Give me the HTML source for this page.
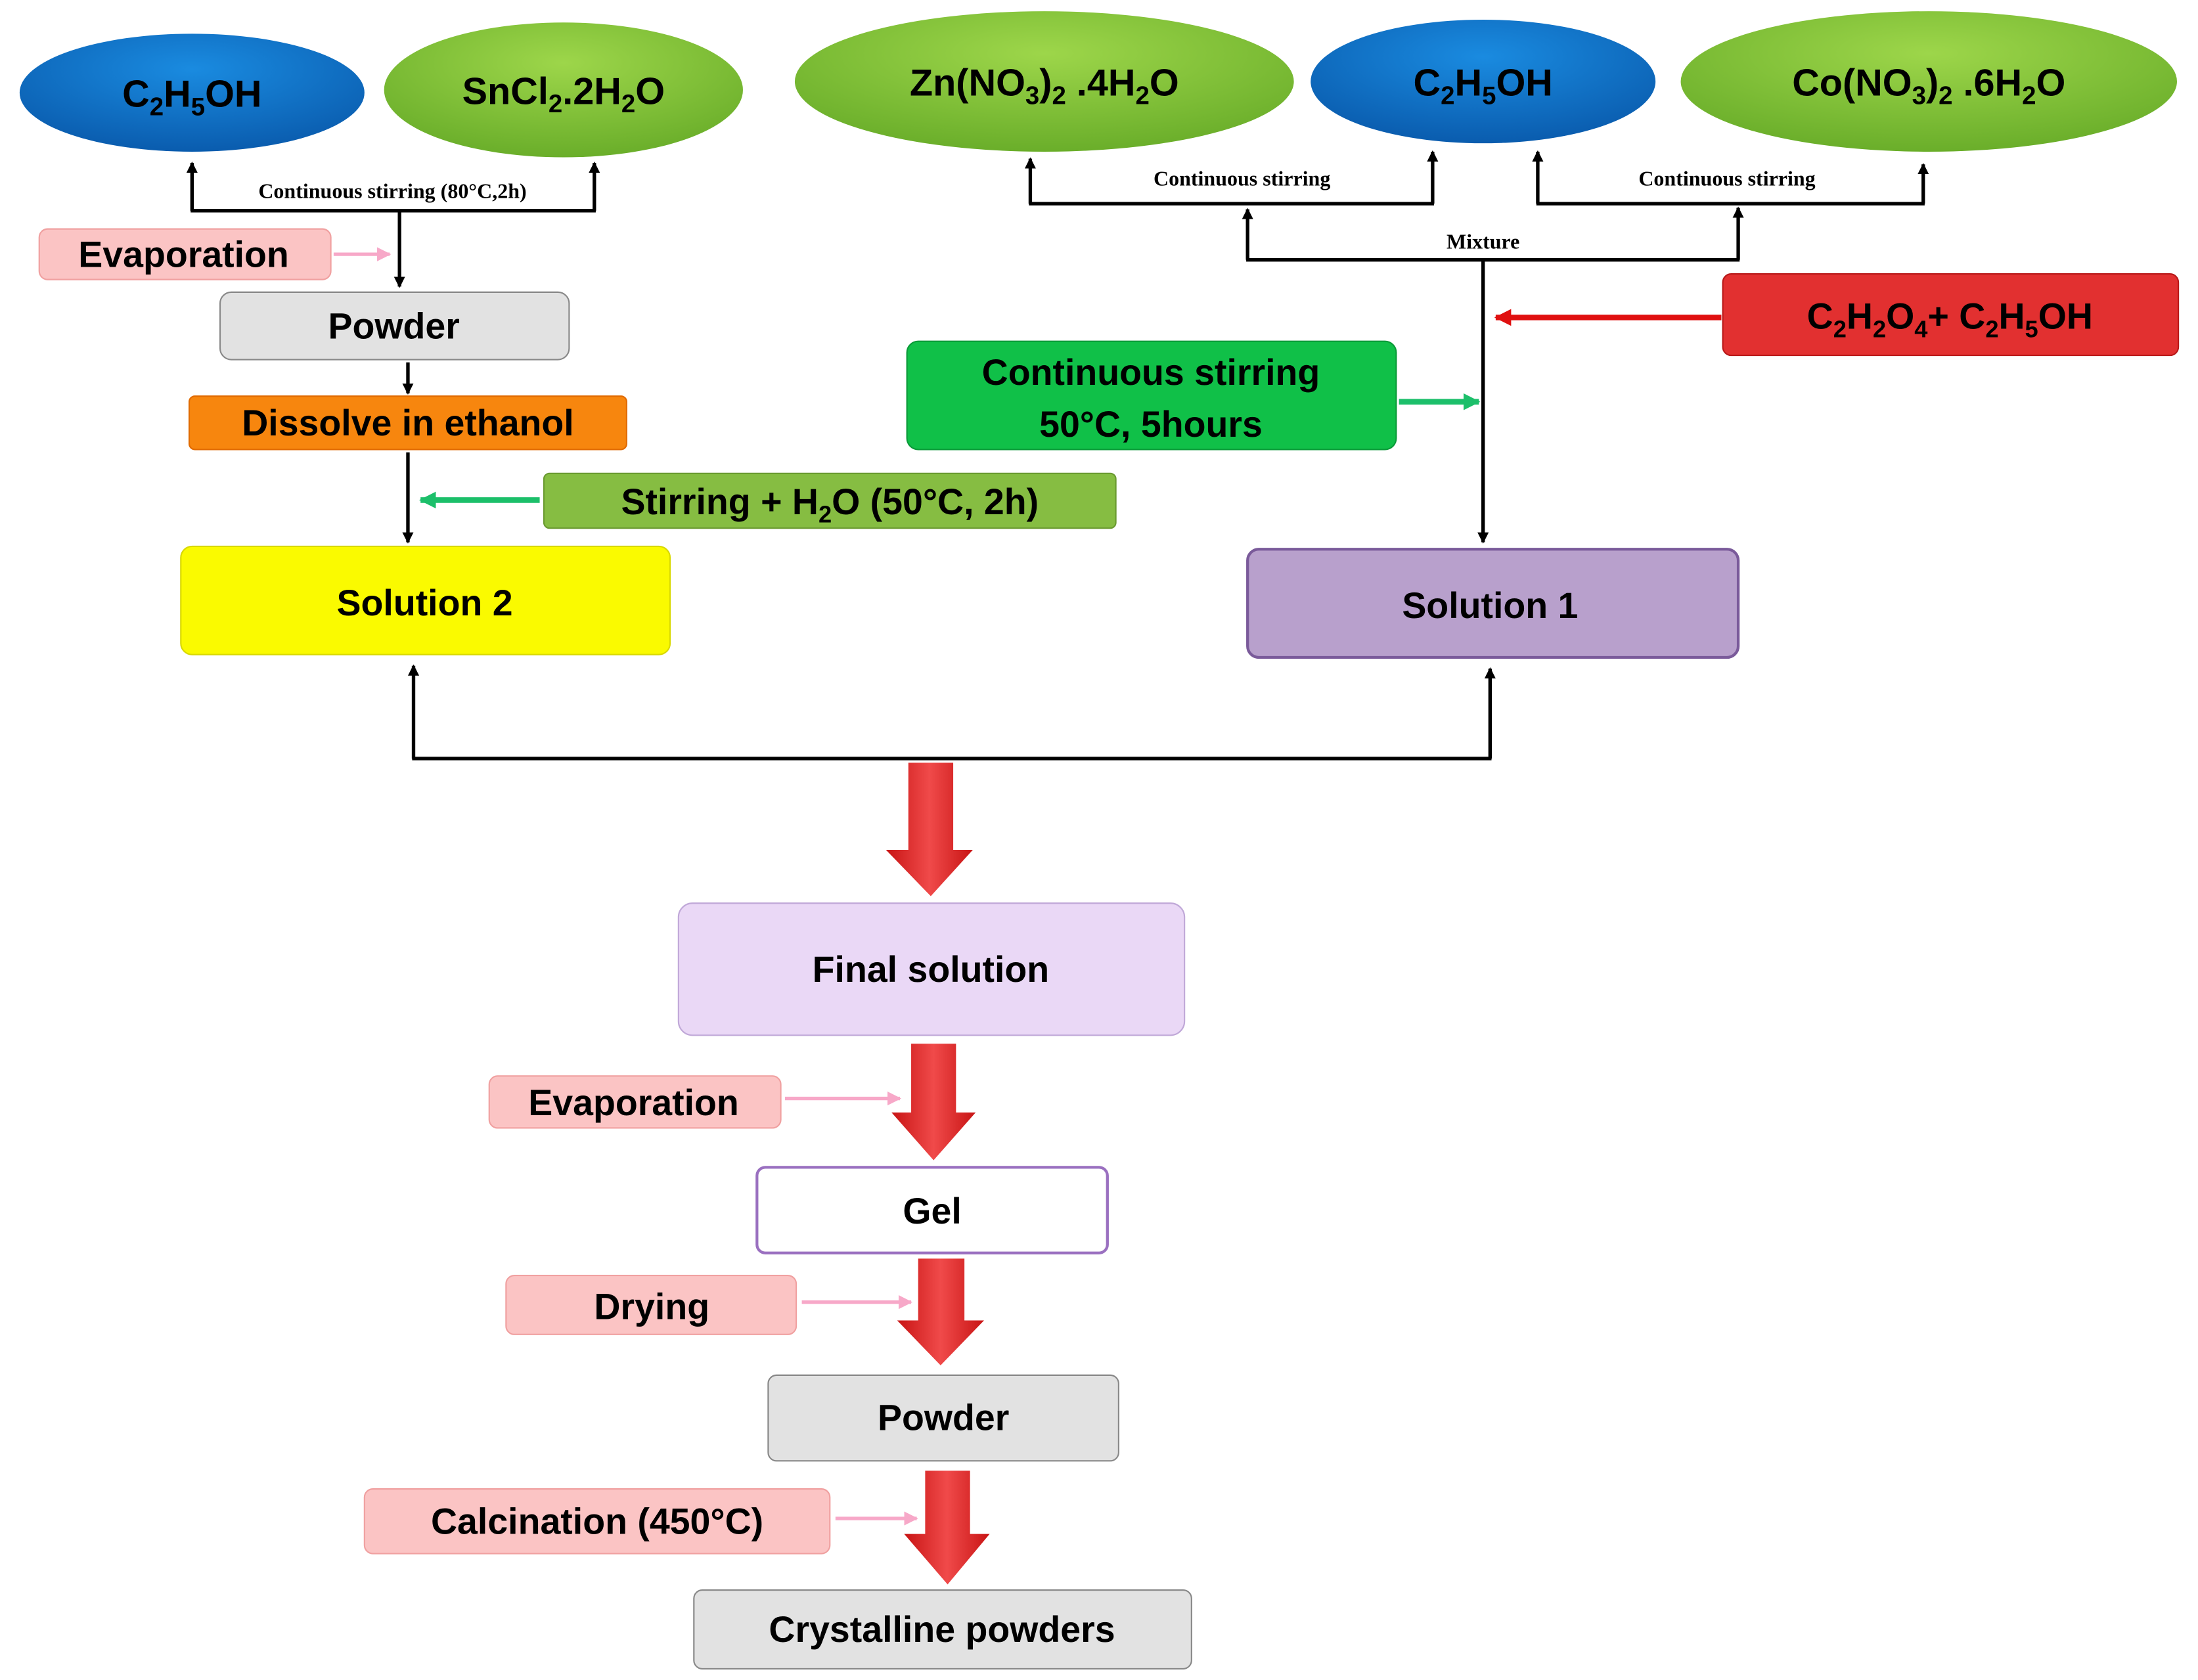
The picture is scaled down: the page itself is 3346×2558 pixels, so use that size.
<!DOCTYPE html>
<html><head><meta charset="utf-8"><style>html,body{margin:0;padding:0;background:#fff}svg{display:block}</style></head>
<body>
<svg xmlns="http://www.w3.org/2000/svg" width="3346" height="2558" viewBox="0 0 1568 1196" preserveAspectRatio="none" font-family="Liberation Sans, sans-serif" font-weight="bold">
<defs>
<radialGradient id="gb" cx="50%" cy="30%" r="70%"><stop offset="0" stop-color="#1a8be0"/><stop offset="1" stop-color="#0a5cae"/></radialGradient>
<radialGradient id="gg" cx="50%" cy="30%" r="70%"><stop offset="0" stop-color="#9dd64a"/><stop offset="1" stop-color="#6aae2a"/></radialGradient>
<marker id="ak" markerWidth="8" markerHeight="8" refX="7" refY="4" orient="auto" markerUnits="userSpaceOnUse"><path d="M0,0 L8,4 L0,8 Z" fill="#000"/></marker>
<marker id="ap" markerWidth="10" markerHeight="10" refX="9" refY="5" orient="auto" markerUnits="userSpaceOnUse"><path d="M0,0 L10,5 L0,10 Z" fill="#f7a8c8"/></marker>
<marker id="ag" markerWidth="12" markerHeight="12" refX="11" refY="6" orient="auto" markerUnits="userSpaceOnUse"><path d="M0,0 L12,6 L0,12 Z" fill="#1cbf6a"/></marker>
<marker id="ar" markerWidth="12" markerHeight="12" refX="11" refY="6" orient="auto" markerUnits="userSpaceOnUse"><path d="M0,0 L12,6 L0,12 Z" fill="#e01010"/></marker>
<linearGradient id="rg" x1="0" x2="1"><stop offset="0" stop-color="#c81414"/><stop offset="0.5" stop-color="#f04a4a"/><stop offset="1" stop-color="#c81414"/></linearGradient>
</defs>
<g font-size="27" text-anchor="middle">
<!-- ellipses -->
<ellipse cx="137" cy="66" rx="123" ry="42" fill="url(#gb)"/>
<text x="137" y="76">C<tspan font-size="18" dy="6">2</tspan><tspan dy="-6">H</tspan><tspan font-size="18" dy="6">5</tspan><tspan dy="-6">OH</tspan></text>
<ellipse cx="402" cy="64" rx="128" ry="48" fill="url(#gg)"/>
<text x="402" y="74">SnCl<tspan font-size="18" dy="6">2</tspan><tspan dy="-6">.2H</tspan><tspan font-size="18" dy="6">2</tspan><tspan dy="-6">O</tspan></text>
<ellipse cx="745" cy="58" rx="178" ry="50" fill="url(#gg)"/>
<text x="745" y="68">Zn(NO<tspan font-size="18" dy="6">3</tspan><tspan dy="-6">)</tspan><tspan font-size="18" dy="6">2</tspan><tspan dy="-6"> .4H</tspan><tspan font-size="18" dy="6">2</tspan><tspan dy="-6">O</tspan></text>
<ellipse cx="1058" cy="58" rx="123" ry="44" fill="url(#gb)"/>
<text x="1058" y="68">C<tspan font-size="18" dy="6">2</tspan><tspan dy="-6">H</tspan><tspan font-size="18" dy="6">5</tspan><tspan dy="-6">OH</tspan></text>
<ellipse cx="1376" cy="58" rx="177" ry="50" fill="url(#gg)"/>
<text x="1376" y="68">Co(NO<tspan font-size="18" dy="6">3</tspan><tspan dy="-6">)</tspan><tspan font-size="18" dy="6">2</tspan><tspan dy="-6"> .6H</tspan><tspan font-size="18" dy="6">2</tspan><tspan dy="-6">O</tspan></text>
</g>
<!-- brackets -->
<g stroke="#000" stroke-width="2.5" fill="none">
<path d="M137,150 V116" marker-end="url(#ak)"/><path d="M424,150 V116" marker-end="url(#ak)"/><path d="M136,150 H425"/>
<path d="M285,150 V204" marker-end="url(#ak)"/>
<path d="M735,145 V113" marker-end="url(#ak)"/><path d="M1022,145 V108" marker-end="url(#ak)"/><path d="M734,145 H1023"/>
<path d="M1097,145 V108" marker-end="url(#ak)"/><path d="M1372,145 V117" marker-end="url(#ak)"/><path d="M1096,145 H1373"/>
<path d="M890,185 V149" marker-end="url(#ak)"/><path d="M1240,185 V148" marker-end="url(#ak)"/><path d="M889,185 H1241"/>
<path d="M1058,185 V386" marker-end="url(#ak)"/>
<path d="M291,258 V280" marker-end="url(#ak)"/>
<path d="M291,322 V386" marker-end="url(#ak)"/>
<path d="M295,540 V474" marker-end="url(#ak)"/><path d="M1063,540 V476" marker-end="url(#ak)"/><path d="M294,540 H1064"/>
</g>
<g font-family="Liberation Serif, serif" font-size="15" text-anchor="middle">
<text x="280" y="141">Continuous stirring (80°C,2h)</text>
<text x="886" y="132">Continuous stirring</text>
<text x="1232" y="132">Continuous stirring</text>
<text x="1058" y="177">Mixture</text>
</g>
<!-- side arrows -->
<path d="M238,181 H278" stroke="#f7a8c8" stroke-width="2.5" marker-end="url(#ap)"/>
<path d="M385,356 H300" stroke="#1cbf6a" stroke-width="4" marker-end="url(#ag)"/>
<path d="M998,286 H1055" stroke="#1cbf6a" stroke-width="4" marker-end="url(#ag)"/>
<path d="M1228,226 H1067" stroke="#e01010" stroke-width="4" marker-end="url(#ar)"/>
<path d="M560,782 H642" stroke="#f7a8c8" stroke-width="2.5" marker-end="url(#ap)"/>
<path d="M572,927 H650" stroke="#f7a8c8" stroke-width="2.5" marker-end="url(#ap)"/>
<path d="M596,1081 H654" stroke="#f7a8c8" stroke-width="2.5" marker-end="url(#ap)"/>
<!-- boxes -->
<g font-size="26" text-anchor="middle">
<rect x="28" y="163" width="208" height="36" rx="6" fill="#fbc4c4" stroke="#f0a0a0"/>
<text x="131" y="190">Evaporation</text>
<rect x="157" y="208" width="249" height="48" rx="8" fill="#e2e2e2" stroke="#888"/>
<text x="281" y="241">Powder</text>
<rect x="135" y="282" width="312" height="38" rx="4" fill="#f7860e" stroke="#e06a00"/>
<text x="291" y="310">Dissolve in ethanol</text>
<rect x="388" y="337" width="408" height="39" rx="4" fill="#86bd42" stroke="#6a9a30"/>
<text x="592" y="366">Stirring + H<tspan font-size="17" dy="6">2</tspan><tspan dy="-6">O  (50°C, 2h)</tspan></text>
<rect x="129" y="389" width="349" height="77" rx="8" fill="#fafa00" stroke="#d8d800"/>
<text x="303" y="438">Solution 2</text>
<rect x="647" y="243" width="349" height="77" rx="8" fill="#10c048" stroke="#0a9a38"/>
<text x="821" y="274">Continuous stirring</text>
<text x="821" y="311">50°C, 5hours</text>
<rect x="1229" y="195" width="325" height="58" rx="6" fill="#e23030" stroke="#b81818"/>
<text x="1391" y="234">C<tspan font-size="17" dy="6">2</tspan><tspan dy="-6">H</tspan><tspan font-size="17" dy="6">2</tspan><tspan dy="-6">O</tspan><tspan font-size="17" dy="6">4</tspan><tspan dy="-6">+ C</tspan><tspan font-size="17" dy="6">2</tspan><tspan dy="-6">H</tspan><tspan font-size="17" dy="6">5</tspan><tspan dy="-6">OH</tspan></text>
<rect x="890" y="391" width="350" height="77" rx="8" fill="#b8a0cc" stroke="#7a5a9a" stroke-width="2"/>
<text x="1063" y="440">Solution 1</text>
<rect x="484" y="643" width="361" height="94" rx="10" fill="#ead8f6" stroke="#c0a8d8"/>
<text x="664" y="699">Final solution</text>
<rect x="349" y="766" width="208" height="37" rx="6" fill="#fbc4c4" stroke="#f0a0a0"/>
<text x="452" y="794">Evaporation</text>
<rect x="540" y="831" width="250" height="61" rx="6" fill="#fff" stroke="#9a70c0" stroke-width="2"/>
<text x="665" y="871">Gel</text>
<rect x="361" y="908" width="207" height="42" rx="6" fill="#fbc4c4" stroke="#f0a0a0"/>
<text x="465" y="939">Drying</text>
<rect x="548" y="979" width="250" height="61" rx="6" fill="#e2e2e2" stroke="#888"/>
<text x="673" y="1018">Powder</text>
<rect x="260" y="1060" width="332" height="46" rx="6" fill="#fbc4c4" stroke="#f0a0a0"/>
<text x="426" y="1092">Calcination (450°C)</text>
<rect x="495" y="1132" width="355" height="56" rx="6" fill="#e2e2e2" stroke="#888"/>
<text x="672" y="1169">Crystalline powders</text>
</g>
<!-- big red arrows -->
<g fill="url(#rg)">
<path d="M648,543 H680 V605 H694 L664,638 L632,605 H648 Z"/>
<path d="M650,743 H682 V792 H696 L666,826 L636,792 H650 Z"/>
<path d="M655,896 H688 V940 H702 L671,972 L640,940 H655 Z"/>
<path d="M660,1047 H692 V1092 H706 L676,1128 L645,1092 H660 Z"/>
</g>
</svg>
</body></html>
